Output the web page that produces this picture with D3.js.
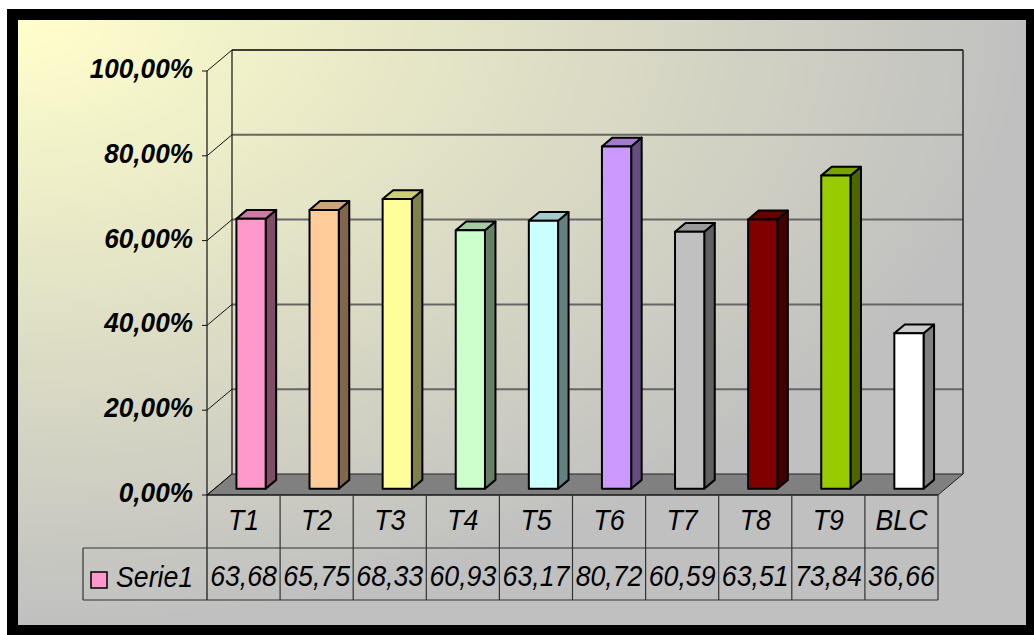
<!DOCTYPE html>
<html>
<head>
<meta charset="utf-8">
<script src="https://cdn.jsdelivr.net/npm/d3@7"></script>
<style>
  body { margin: 0; background: #fff; }
  svg { display: block; }
</style>
</head>
<body>
<svg width="1034" height="635"></svg>
<script>
// data
const categories = ["T1", "T2", "T3", "T4", "T5", "T6", "T7", "T8", "T9", "BLC"];
const values = [63.68, 65.75, 68.33, 60.93, 63.17, 80.72, 60.59, 63.51, 73.84, 36.66];
const barColors = ["#FF99CC", "#FFCC99", "#FFFF99", "#CCFFCC", "#CCFFFF",
                   "#CC99FF", "#C0C0C0", "#800000", "#99CC00", "#FFFFFF"];
const tickValues = [0, 20, 40, 60, 80, 100];
const seriesName = "Serie1";

const svg = d3.select("svg");

// background gradient, light yellow from the top left corner to gray
const grad = svg.append("defs").append("radialGradient")
    .attr("id", "bg")
    .attr("cx", 0).attr("cy", 0).attr("fx", 0).attr("fy", 0).attr("r", 1);
grad.append("stop").attr("offset", "0%").attr("stop-color", "#FFFFCC");
grad.append("stop").attr("offset", "100%").attr("stop-color", "#C0C0C0");

svg.append("rect")
    .attr("x", 7).attr("y", 9).attr("width", 1027).attr("height", 626)
    .attr("fill", "#000");
svg.append("rect")
    .attr("x", 18).attr("y", 20).attr("width", 1008).attr("height", 605)
    .attr("fill", "url(#bg)");

const x = d3.scaleBand().domain(categories).range([207, 938]);
const y = d3.scaleLinear().domain([0, 100]).range([495, 71]);

// 3d depth offset of the back wall
const DX = 25, DY = -21;
const x0 = x.range()[0], x1 = x.range()[1];

const row1 = y(0) + 53, row2 = y(0) + 105;   // table row lines
const legendLeft = 83;

// floor
svg.append("polygon")
    .attr("points", [[x0, y(0)], [x1, y(0)], [x1 + DX, y(0) + DY], [x0 + DX, y(0) + DY]].join(" "))
    .attr("fill", "#808080")
    .attr("stroke", "#222")
    .attr("stroke-width", 1);

// gridlines on back wall and left wall
tickValues.forEach(t => {
    const col = t === 100 ? "#000" : (t === 0 ? "#222" : "#666");
    if (t > 0) {
        svg.append("line")
            .attr("x1", x0 + DX).attr("y1", y(t) + DY)
            .attr("x2", x1 + DX).attr("y2", y(t) + DY)
            .attr("stroke", col).attr("stroke-width", t === 100 ? 1.5 : 2);
    }
    svg.append("line")
        .attr("x1", x0).attr("y1", y(t))
        .attr("x2", x0 + DX).attr("y2", y(t) + DY)
        .attr("stroke", "#111").attr("stroke-width", 1);
    // tick
    svg.append("line")
        .attr("x1", x0 - 5).attr("y1", y(t))
        .attr("x2", x0).attr("y2", y(t))
        .attr("stroke", "#111").attr("stroke-width", 1);
    svg.append("text")
        .attr("transform", `translate(193,${y(t) + 7}) scale(0.97,1)`)
        .attr("text-anchor", "end")
        .attr("font-family", "Liberation Sans, Arial, sans-serif")
        .attr("font-size", "27px")
        .attr("font-weight", "bold")
        .attr("font-style", "italic")
        .attr("fill", "#000")
        .text(d3.format(".2f")(t).replace(".", ",") + "%");
});

// wall edges
svg.append("line")
    .attr("x1", x0 + DX).attr("y1", y(100) + DY)
    .attr("x2", x0 + DX).attr("y2", y(0) + DY)
    .attr("stroke", "#111").attr("stroke-width", 1.2);
svg.append("line")
    .attr("x1", x1 + DX).attr("y1", y(100) + DY)
    .attr("x2", x1 + DX).attr("y2", y(0) + DY)
    .attr("stroke", "#222").attr("stroke-width", 1.5);
svg.append("line")
    .attr("x1", x0).attr("y1", y(100))
    .attr("x2", x0).attr("y2", row2)
    .attr("stroke", "#111").attr("stroke-width", 1.2);

// bars
const f0 = 0.3, f1 = 0.72;
const barW = x.bandwidth() * 0.4;
const ddx = (f1 - f0) * DX, ddy = (f1 - f0) * DY;

function shade(c, k) {
    const r = d3.rgb(c);
    return d3.rgb(r.r * k, r.g * k, r.b * k).formatHex();
}

const bars = svg.selectAll(".bar")
    .data(categories.map((c, i) => ({ name: c, value: values[i], color: barColors[i] })))
    .enter().append("g")
    .attr("class", "bar");

bars.each(function (d) {
    const g = d3.select(this);
    const fx = x(d.name) + (x.bandwidth() - barW) / 2 + f0 * DX;
    const fy = y(d.value) + f0 * DY;
    const fb = y(0) + f0 * DY;

    g.append("polygon")
        .attr("points", [[fx + barW, fy], [fx + barW + ddx, fy + ddy],
                         [fx + barW + ddx, fb + ddy], [fx + barW, fb]].join(" "))
        .attr("fill", shade(d.color, 0.5));
    g.append("polygon")
        .attr("points", [[fx, fy], [fx + barW, fy], [fx + barW + ddx, fy + ddy], [fx + ddx, fy + ddy]].join(" "))
        .attr("fill", shade(d.color, 0.8));
    g.append("rect")
        .attr("x", fx).attr("y", fy)
        .attr("width", barW).attr("height", fb - fy)
        .attr("fill", d.color);
    g.selectAll("polygon, rect")
        .attr("stroke", "#000")
        .attr("stroke-width", 2)
        .attr("stroke-linejoin", "round");
});

// data table
const tableLine = "#333";
svg.append("line")
    .attr("x1", x0).attr("y1", y(0)).attr("x2", x1).attr("y2", y(0))
    .attr("stroke", "#111").attr("stroke-width", 1.2);
[row1, row2].forEach(ry => {
    svg.append("line")
        .attr("x1", legendLeft).attr("y1", ry).attr("x2", x1).attr("y2", ry)
        .attr("stroke", tableLine).attr("stroke-width", 1.2);
});
svg.append("line")
    .attr("x1", legendLeft).attr("y1", row1).attr("x2", legendLeft).attr("y2", row2)
    .attr("stroke", tableLine).attr("stroke-width", 1.2);
categories.forEach(c => {
    svg.append("line")
        .attr("x1", x(c) + x.bandwidth()).attr("y1", y(0))
        .attr("x2", x(c) + x.bandwidth()).attr("y2", row2)
        .attr("stroke", tableLine).attr("stroke-width", 1.2);
});

function tableText(tx, by, str, anchor) {
    svg.append("text")
        .attr("transform", `translate(${tx},${by}) scale(0.89,1)`)
        .attr("text-anchor", anchor)
        .attr("font-family", "Liberation Sans, Arial, sans-serif")
        .attr("font-size", "30px")
        .attr("font-style", "italic")
        .attr("fill", "#000")
        .text(str);
}

categories.forEach((c, i) => {
    const cx = x(c) + x.bandwidth() / 2;
    tableText(cx, 530, c, "middle");
    tableText(cx, 586, d3.format(".2f")(values[i]).replace(".", ","), "middle");
});

// legend key
svg.append("rect")
    .attr("x", 91).attr("y", 572).attr("width", 16).attr("height", 16)
    .attr("fill", barColors[0])
    .attr("stroke", "#000").attr("stroke-width", 1.5);
tableText(116, 587, seriesName, "start");
</script>
</body>
</html>
